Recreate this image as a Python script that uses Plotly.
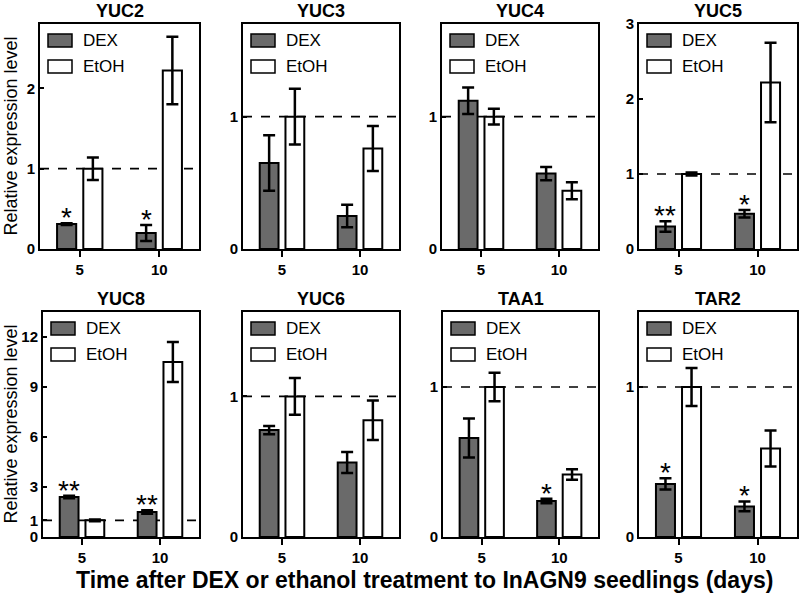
import plotly.graph_objects as go

# ---------------- data ----------------
genes = ["YUC2", "YUC3", "YUC4", "YUC5", "YUC8", "YUC6", "TAA1", "TAR2"]
days = ["5", "10"]

dex_yuc2 = [0.31, 0.20]; dex_yuc2_err = [0.01, 0.10]
dex_yuc3 = [0.65, 0.25]; dex_yuc3_err = [0.21, 0.085]
dex_yuc4 = [1.12, 0.57]; dex_yuc4_err = [0.10, 0.05]
dex_yuc5 = [0.30, 0.47]; dex_yuc5_err = [0.07, 0.05]
dex_yuc8 = [2.40, 1.50]; dex_yuc8_err = [0.08, 0.10]
dex_yuc6 = [0.76, 0.53]; dex_yuc6_err = [0.03, 0.075]
dex_taa1 = [0.66, 0.24]; dex_taa1_err = [0.13, 0.015]
dex_tar2 = [0.354, 0.204]; dex_tar2_err = [0.037, 0.033]

etoh_yuc2 = [1.0, 2.22]; etoh_yuc2_err = [0.14, 0.42]
etoh_yuc3 = [1.0, 0.76]; etoh_yuc3_err = [0.21, 0.17]
etoh_yuc4 = [1.0, 0.44]; etoh_yuc4_err = [0.06, 0.065]
etoh_yuc5 = [1.0, 2.22]; etoh_yuc5_err = [0.02, 0.53]
etoh_yuc8 = [1.0, 10.5]; etoh_yuc8_err = [0.05, 1.2]
etoh_yuc6 = [1.0, 0.83]; etoh_yuc6_err = [0.13, 0.14]
etoh_taa1 = [1.0, 0.416]; etoh_taa1_err = [0.095, 0.035]
etoh_tar2 = [1.0, 0.59]; etoh_tar2_err = [0.127, 0.12]

stars_yuc2 = ["*", "*"]
stars_yuc3 = ["", ""]
stars_yuc4 = ["", ""]
stars_yuc5 = ["**", "*"]
stars_yuc8 = ["**", "**"]
stars_yuc6 = ["", ""]
stars_taa1 = ["", "*"]
stars_tar2 = ["*", "*"]

y_max = [2.8, 1.7, 1.7, 3.0, 13.5, 1.6, 1.5, 1.5]
y_ticks = [[0, 1, 2], [0, 1], [0, 1], [0, 1, 2, 3],
           [0, 1, 3, 6, 9, 12], [0, 1], [0, 1], [0, 1]]
reference_level = 1.0

dex_means = [dex_yuc2, dex_yuc3, dex_yuc4, dex_yuc5, dex_yuc8, dex_yuc6, dex_taa1, dex_tar2]
dex_errs = [dex_yuc2_err, dex_yuc3_err, dex_yuc4_err, dex_yuc5_err, dex_yuc8_err, dex_yuc6_err, dex_taa1_err, dex_tar2_err]
etoh_means = [etoh_yuc2, etoh_yuc3, etoh_yuc4, etoh_yuc5, etoh_yuc8, etoh_yuc6, etoh_taa1, etoh_tar2]
etoh_errs = [etoh_yuc2_err, etoh_yuc3_err, etoh_yuc4_err, etoh_yuc5_err, etoh_yuc8_err, etoh_yuc6_err, etoh_taa1_err, etoh_tar2_err]
stars = [stars_yuc2, stars_yuc3, stars_yuc4, stars_yuc5, stars_yuc8, stars_yuc6, stars_taa1, stars_tar2]

# ---------------- layout geometry (screen pixels) ----------------
W, H = 800, 598
FONT = "Liberation Sans, Arial, sans-serif"
panel_x = [(40, 199), (243, 399), (442, 598), (639, 797),
           (43, 199), (243, 399), (443, 598), (639, 797)]
row_y = [(24, 249), (312, 537)]

def px(x):
    return x / W

def py(y):
    return 1 - y / H

DEX_COLOR = "#6a6a6a"
BARGAP = 0.34
GROUPGAP = 0.27
DEX_OFFSET = -(1 - BARGAP) / 4

fig = go.Figure()
shapes = []
annotations = []

for k, gene in enumerate(genes):
    n = k + 1
    xa = "x" if n == 1 else f"x{n}"
    ya = "y" if n == 1 else f"y{n}"
    x0, x1 = panel_x[k]
    top, bot = row_y[k // 4]

    fig.add_trace(go.Bar(
        x=days, y=dex_means[k], name="DEX", xaxis=xa, yaxis=ya,
        marker=dict(color=DEX_COLOR, line=dict(color="black", width=2)),
        error_y=dict(type="data", array=dex_errs[k], color="black", thickness=2.5, width=6),
        showlegend=False))
    fig.add_trace(go.Bar(
        x=days, y=etoh_means[k], name="EtOH", xaxis=xa, yaxis=ya,
        marker=dict(color="white", line=dict(color="black", width=2)),
        error_y=dict(type="data", array=etoh_errs[k], color="black", thickness=2.5, width=6),
        showlegend=False))

    axis_common = dict(showline=True, linewidth=2, linecolor="black", mirror=True,
                       showgrid=False, zeroline=False, automargin=False,
                       tickfont=dict(family=FONT, size=15, color="black", weight="bold"))
    fig.update_layout(**{
        ("xaxis" if n == 1 else f"xaxis{n}"): dict(
            domain=[px(x0), px(x1)], anchor=ya, type="category",
            range=[-0.5, 1.5], ticks="outside", ticklen=6, tickwidth=2,
            tickcolor="black", **axis_common),
        ("yaxis" if n == 1 else f"yaxis{n}"): dict(
            domain=[py(bot), py(top)], anchor=xa, range=[0, y_max[k]],
            tickvals=y_ticks[k], ticks="inside", ticklen=4, tickwidth=2,
            tickcolor="black", **axis_common),
    })

    # dashed reference line at 1
    shapes.append(dict(type="line", xref=f"{xa} domain", yref=ya, x0=0, x1=1,
                       y0=reference_level, y1=reference_level,
                       line=dict(color="black", width=1.6, dash="dash"), layer="below"))

    # panel title
    annotations.append(dict(text=f"<b>{gene}</b>", x=px((x0 + x1) / 2),
                            y=py(top - 13), xref="paper", yref="paper",
                            xanchor="center", yanchor="middle",
                            showarrow=False, font=dict(family=FONT, size=18, color="black")))

    # legend (manual, inside panel)
    for j, (label, fill) in enumerate([("DEX", DEX_COLOR), ("EtOH", "white")]):
        sy = top + 10 + j * 26
        shapes.append(dict(type="rect", xref="paper", yref="paper",
                           x0=px(x0 + 8), x1=px(x0 + 32), y0=py(sy), y1=py(sy + 13),
                           fillcolor=fill, line=dict(color="black", width=1.5)))
        annotations.append(dict(text=label, x=px(x0 + 41), y=py(sy + 6.5),
                                xref="paper", yref="paper", xanchor="left", yanchor="middle",
                                showarrow=False, font=dict(family=FONT, size=17, color="black")))

    # significance stars
    for i, s in enumerate(stars[k]):
        if s:
            annotations.append(dict(text=s, x=i + DEX_OFFSET, y=dex_means[k][i] + dex_errs[k][i],
                                    xref=xa, yref=ya, xanchor="center", yanchor="bottom",
                                    showarrow=False, yshift=-12,
                                    font=dict(family=FONT, size=28, color="black")))

# y titles
for (top, bot) in row_y:
    annotations.append(dict(text="Relative expression level", x=px(10), y=py((top + bot) / 2),
                            xref="paper", yref="paper", xanchor="center", yanchor="middle",
                            textangle=-90, showarrow=False,
                            font=dict(family=FONT, size=18, color="black")))

# x title
annotations.append(dict(text="<b>Time after DEX or ethanol treatment to InAGN9 seedlings (days)</b>",
                        x=px(424), y=py(580), xref="paper", yref="paper",
                        xanchor="center", yanchor="middle", showarrow=False,
                        font=dict(family=FONT, size=23, color="black")))

fig.update_layout(width=W, height=H, margin=dict(l=0, r=0, t=0, b=0, autoexpand=False),
                  paper_bgcolor="white", plot_bgcolor="white",
                  barmode="group", bargap=BARGAP, bargroupgap=GROUPGAP,
                  shapes=shapes, annotations=annotations,
                  font=dict(family=FONT, color="black"))

fig.write_html("out.html", config={"displayModeBar": False},
               post_script="document.body.style.margin='0';document.body.style.overflow='hidden';")
